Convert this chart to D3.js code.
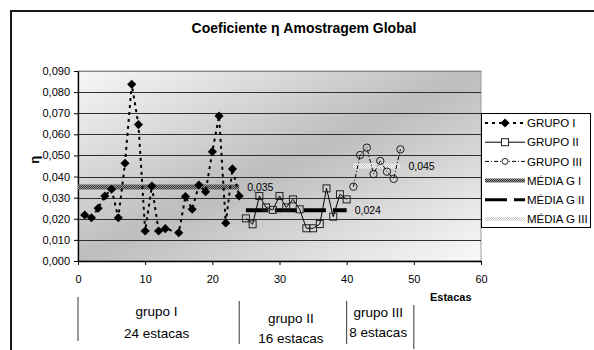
<!DOCTYPE html>
<html>
<head>
<meta charset="utf-8">
<script src="https://cdn.jsdelivr.net/npm/d3@7"></script>
<style>
  body { margin: 0; background: #fff; }
  svg text { font-family: "Liberation Sans", Arial, sans-serif; fill: #000; }
</style>
</head>
<body>
<div id="chart"></div>
<script>
// Data
const estacasG1 = [1, 2, 3, 4, 5, 6, 7, 8, 9, 10, 11, 12, 13, 15, 16, 17, 18, 19, 20, 21, 22, 23, 24];
const etaG1 = [0.0218, 0.0205, 0.025, 0.0308, 0.034, 0.0205, 0.0463, 0.0837, 0.0646, 0.0142, 0.0355, 0.0142,
  0.0153, 0.0134, 0.0305, 0.0245, 0.036, 0.0328, 0.0518, 0.0687, 0.018, 0.0436, 0.0308];
const estacasG2 = [25, 26, 27, 28, 29, 30, 31, 32, 33, 34, 35, 36, 37, 38, 39, 40];
const etaG2 = [0.0202, 0.0174, 0.0308, 0.0254, 0.0242, 0.0308, 0.0254, 0.0292, 0.0245, 0.0155, 0.0155,
  0.0175, 0.0344, 0.021, 0.0316, 0.0292];
const estacasG3 = [41, 42, 43, 44, 45, 46, 47, 48];
const etaG3 = [0.0352, 0.0502, 0.0537, 0.0412, 0.0474, 0.0423, 0.0389, 0.0529];

const mediaNames = ['MÉDIA G I', 'MÉDIA G II', 'MÉDIA G III'];
const mediaValues = [0.035, 0.024, 0.045];
const mediaStart = [0, 25, 41];
const mediaEnd = [24, 40, 48];

const seriesNames = ['GRUPO I', 'GRUPO II', 'GRUPO III'];
const groupLabels = ['grupo I', 'grupo II', 'grupo III'];
const groupCounts = ['24 estacas', '16 estacas', '8 estacas'];
const groupBounds = [0, 24, 40, 50];

const yTicks = [0, 0.01, 0.02, 0.03, 0.04, 0.05, 0.06, 0.07, 0.08, 0.09];
const xTicks = [0, 10, 20, 30, 40, 50, 60];

// Layout
const width = 594;
const height = 350;
const margin = { top: 71, right: 113, bottom: 89, left: 78 };
const plotW = width - margin.left - margin.right;
const plotH = height - margin.top - margin.bottom;

const ptBR = d3.formatLocale({ decimal: ',', thousands: '.', grouping: [3], currency: ['R$', ''] });
const fmt3 = ptBR.format('.3f');

const svg = d3.select('#chart').append('svg')
  .attr('width', width)
  .attr('height', height);

const defs = svg.append('defs');

// Plot area gradient (diagonal, darker band through the middle)
const grad = defs.append('linearGradient')
  .attr('id', 'plotGrad')
  .attr('x1', 0).attr('y1', 0).attr('x2', 1).attr('y2', 1);
grad.append('stop').attr('offset', '0%').attr('stop-color', '#f7f7f7');
grad.append('stop').attr('offset', '50%').attr('stop-color', '#bdbdbd');
grad.append('stop').attr('offset', '100%').attr('stop-color', '#fafafa');

// Hatched patterns for the mean lines
const hatchDark = defs.append('pattern')
  .attr('id', 'hatchDark').attr('patternUnits', 'userSpaceOnUse')
  .attr('width', 2).attr('height', 2);
hatchDark.append('rect').attr('width', 2).attr('height', 2).attr('fill', '#9a9a9a');
hatchDark.append('rect').attr('width', 1).attr('height', 1).attr('fill', '#333');
hatchDark.append('rect').attr('x', 1).attr('y', 1).attr('width', 1).attr('height', 1).attr('fill', '#333');

const hatchLight = defs.append('pattern')
  .attr('id', 'hatchLight').attr('patternUnits', 'userSpaceOnUse')
  .attr('width', 2).attr('height', 2);
hatchLight.append('rect').attr('width', 2).attr('height', 2).attr('fill', '#fff');
hatchLight.append('rect').attr('width', 1).attr('height', 1).attr('fill', '#c8c8c8');
hatchLight.append('rect').attr('x', 1).attr('y', 1).attr('width', 1).attr('height', 1).attr('fill', '#c8c8c8');

// Outer chart frame (cut off at right and bottom like the source)
svg.append('rect')
  .attr('x', 11).attr('y', 11)
  .attr('width', 620).attr('height', 380)
  .attr('fill', 'none')
  .attr('stroke', '#1a1a1a')
  .attr('stroke-width', 2);

// Title
svg.append('text')
  .attr('x', 304).attr('y', 33)
  .attr('text-anchor', 'middle')
  .style('font-size', '14px')
  .style('font-weight', 'bold')
  .text('Coeficiente η Amostragem Global');

const g = svg.append('g')
  .attr('transform', `translate(${margin.left},${margin.top})`);

const x = d3.scaleLinear().domain([0, 60]).range([0, plotW]);
const y = d3.scaleLinear().domain([0, 0.09]).range([plotH, 0]);

// Background
g.append('rect')
  .attr('width', plotW)
  .attr('height', plotH)
  .attr('fill', 'url(#plotGrad)')
  .attr('stroke', '#9c9c9c')
  .attr('stroke-width', 1);

// Grid lines
g.append('g')
  .selectAll('line')
  .data(yTicks.slice(1))
  .join('line')
  .attr('x1', 0).attr('x2', plotW)
  .attr('y1', d => Math.round(y(d)) + 0.5)
  .attr('y2', d => Math.round(y(d)) + 0.5)
  .attr('stroke', d => d === 0.09 ? '#8a8a8a' : '#2e2e2e')
  .attr('stroke-width', 1);

// Axes
const yAxis = g.append('g')
  .call(d3.axisLeft(y).tickValues(yTicks).tickFormat(fmt3).tickSize(4).tickPadding(4).tickSizeOuter(0));
const xAxis = g.append('g')
  .attr('transform', `translate(0,${plotH})`)
  .call(d3.axisBottom(x).tickValues(xTicks).tickSize(4).tickPadding(10).tickSizeOuter(0));
[yAxis, xAxis].forEach(a => {
  a.select('.domain').attr('stroke', '#000').attr('stroke-width', 1.3);
  a.selectAll('.tick line').attr('stroke', '#000');
  a.selectAll('.tick text')
    .style('font-size', '11px')
    .style('font-family', '"Liberation Sans", Arial, sans-serif')
    .attr('fill', '#000');
});

// Axis titles
g.append('text')
  .attr('x', x(55.5)).attr('y', plotH + 40)
  .attr('text-anchor', 'middle')
  .style('font-size', '11px')
  .style('font-weight', 'bold')
  .text('Estacas');

g.append('text')
  .attr('transform', `translate(${-39},${y(0.048)}) rotate(-90)`)
  .attr('text-anchor', 'middle')
  .style('font-size', '13px')
  .style('font-weight', 'bold')
  .text('η');

// Mean lines
const mediaStroke = ['url(#hatchDark)', '#000', 'url(#hatchLight)'];
const mediaWidth = [5, 4, 5];
const mediaDash = [null, '22,7', null];
mediaValues.forEach((v, i) => {
  g.append('line')
    .attr('x1', x(mediaStart[i])).attr('x2', x(mediaEnd[i]))
    .attr('y1', y(v)).attr('y2', y(v))
    .attr('stroke', mediaStroke[i])
    .attr('stroke-width', mediaWidth[i])
    .attr('stroke-dasharray', mediaDash[i]);
  g.append('text')
    .attr('x', x(mediaEnd[i]) + 8)
    .attr('y', y(v))
    .attr('dy', '0.35em')
    .style('font-size', '10.5px')
    .attr('fill', '#222')
    .text(fmt3(v));
});

const line = d3.line().x(d => x(d[0])).y(d => y(d[1]));
const ptsG1 = estacasG1.map((e, i) => [e, etaG1[i]]);
const ptsG2 = estacasG2.map((e, i) => [e, etaG2[i]]);
const ptsG3 = estacasG3.map((e, i) => [e, etaG3[i]]);
const diamond = d3.symbol().type(d3.symbolSquare).size(42);

// Grupo I: dashed, black diamonds
g.append('path')
  .datum(ptsG1)
  .attr('d', line)
  .attr('fill', 'none')
  .attr('stroke', '#000')
  .attr('stroke-width', 2)
  .attr('stroke-dasharray', '3,4');
g.selectAll('.g1')
  .data(ptsG1)
  .join('path')
  .attr('class', 'g1')
  .attr('d', diamond)
  .attr('transform', d => `translate(${x(d[0])},${y(d[1])}) rotate(45)`)
  .attr('fill', '#000');

// Grupo II: solid, open squares
g.append('path')
  .datum(ptsG2)
  .attr('d', line)
  .attr('fill', 'none')
  .attr('stroke', '#000')
  .attr('stroke-width', 1);
g.selectAll('.g2')
  .data(ptsG2)
  .join('rect')
  .attr('class', 'g2')
  .attr('x', d => x(d[0]) - 3.5)
  .attr('y', d => y(d[1]) - 3.5)
  .attr('width', 7).attr('height', 7)
  .attr('fill', 'none')
  .attr('stroke', '#222')
  .attr('stroke-width', 1);

// Grupo III: dash-dot, open circles
g.append('path')
  .datum(ptsG3)
  .attr('d', line)
  .attr('fill', 'none')
  .attr('stroke', '#000')
  .attr('stroke-width', 1)
  .attr('stroke-dasharray', '4,2,1,2');
g.selectAll('.g3')
  .data(ptsG3)
  .join('circle')
  .attr('class', 'g3')
  .attr('cx', d => x(d[0]))
  .attr('cy', d => y(d[1]))
  .attr('r', 3.7)
  .attr('fill', 'none')
  .attr('stroke', '#222')
  .attr('stroke-width', 1);

// Legend
const legX = 481, legY = 113, legW = 109, legH = 114;
const leg = svg.append('g');
leg.append('rect')
  .attr('x', legX + 0.5).attr('y', legY + 0.5)
  .attr('width', legW).attr('height', legH)
  .attr('fill', '#fff')
  .attr('stroke', '#000');
const legNames = seriesNames.concat(mediaNames);
const rowY = i => legY + 10 + i * 19.2;
legNames.forEach((name, i) => {
  const cy = rowY(i);
  const sx1 = legX + 4, sx2 = legX + 44, mx = legX + 24;
  if (i === 0) {
    leg.append('line').attr('x1', sx1).attr('x2', sx2).attr('y1', cy).attr('y2', cy)
      .attr('stroke', '#000').attr('stroke-width', 2).attr('stroke-dasharray', '3,4');
    leg.append('path').attr('d', diamond)
      .attr('transform', `translate(${mx},${cy}) rotate(45)`).attr('fill', '#000');
  } else if (i === 1) {
    leg.append('line').attr('x1', sx1).attr('x2', sx2).attr('y1', cy).attr('y2', cy)
      .attr('stroke', '#000').attr('stroke-width', 1);
    leg.append('rect').attr('x', mx - 3.5).attr('y', cy - 3.5).attr('width', 7).attr('height', 7)
      .attr('fill', '#fff').attr('stroke', '#222');
  } else if (i === 2) {
    leg.append('line').attr('x1', sx1).attr('x2', sx2).attr('y1', cy).attr('y2', cy)
      .attr('stroke', '#000').attr('stroke-width', 1).attr('stroke-dasharray', '4,2,1,2');
    leg.append('circle').attr('cx', mx).attr('cy', cy).attr('r', 3)
      .attr('fill', '#fff').attr('stroke', '#222');
  } else {
    const k = i - 3;
    leg.append('line').attr('x1', sx1).attr('x2', sx2).attr('y1', cy).attr('y2', cy)
      .attr('stroke', mediaStroke[k]).attr('stroke-width', mediaWidth[k] - 1)
      .attr('stroke-dasharray', mediaDash[k]);
  }
  leg.append('text')
    .attr('x', legX + 46)
    .attr('y', cy)
    .attr('dy', '0.36em')
    .style('font-size', '11.5px')
    .text(name);
});

// Group annotation below the axis
const ann = svg.append('g').attr('transform', `translate(${margin.left},0)`);
const lineTop = [297, 301, 301, 305];
const lineBot = [341, 344, 344, 349];
groupBounds.forEach((b, i) => {
  ann.append('line')
    .attr('x1', x(b)).attr('x2', x(b))
    .attr('y1', lineTop[i]).attr('y2', lineBot[i])
    .attr('stroke', '#333').attr('stroke-width', 1);
});
const labelY = [316, 323, 317];
const countY = [338, 343, 337];
groupLabels.forEach((lab, i) => {
  const cx = x((groupBounds[i] + groupBounds[i + 1]) / 2) - 2;
  ann.append('text')
    .attr('x', cx).attr('y', labelY[i])
    .attr('text-anchor', 'middle')
    .style('font-size', '13.5px')
    .text(lab);
  ann.append('text')
    .attr('x', cx).attr('y', countY[i])
    .attr('text-anchor', 'middle')
    .style('font-size', '13.5px')
    .text(groupCounts[i]);
});
</script>
</body>
</html>
